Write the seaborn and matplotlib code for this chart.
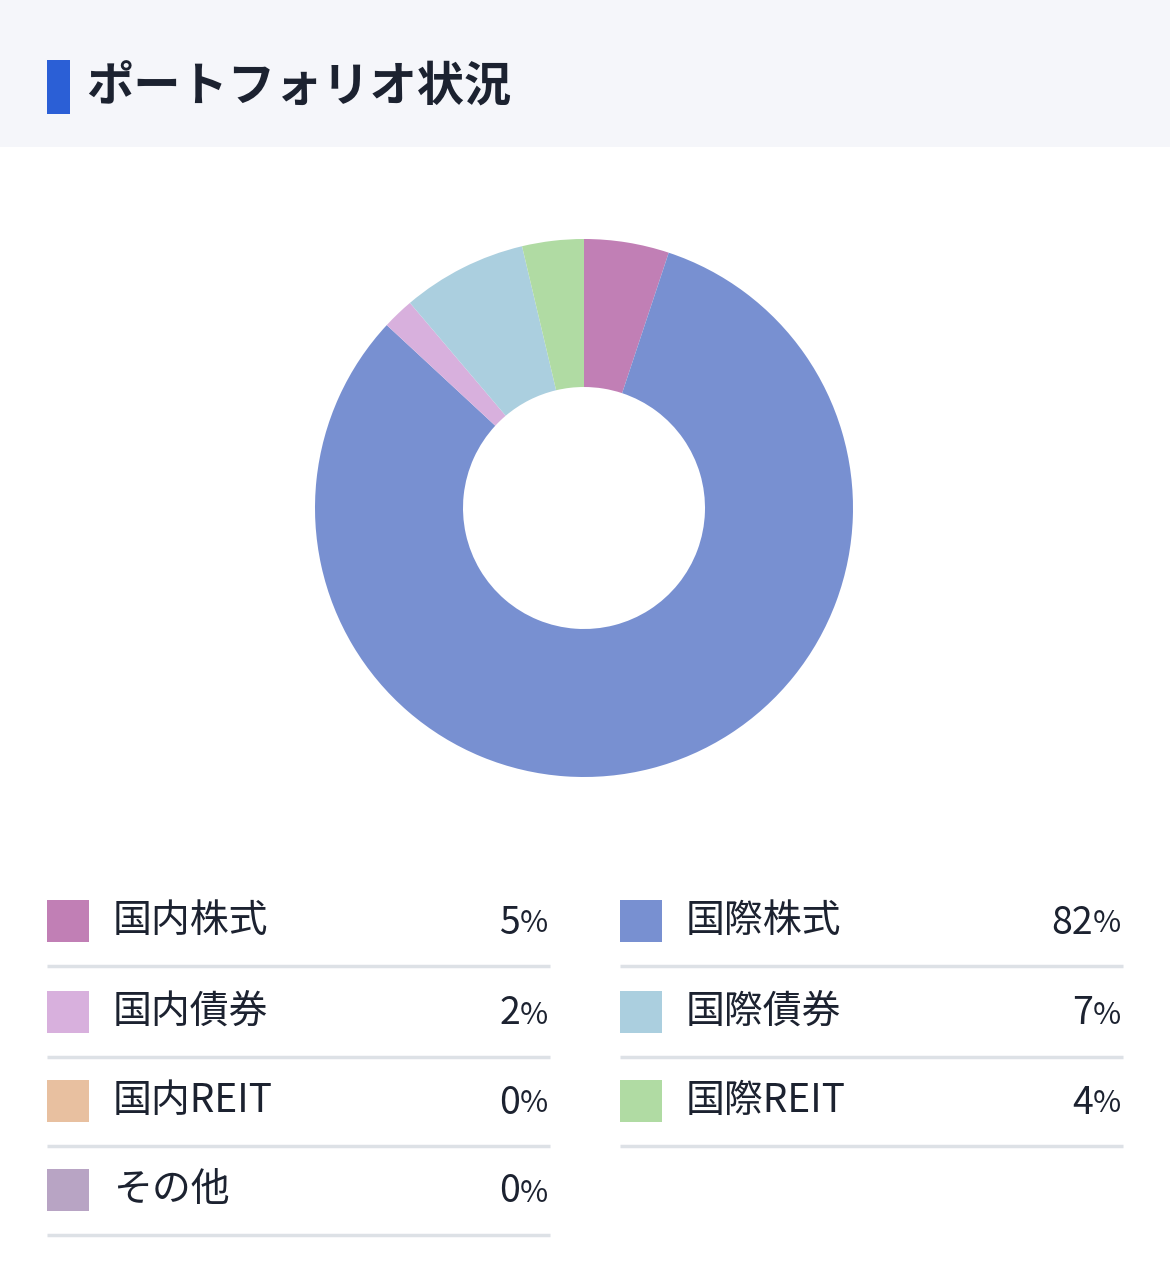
import matplotlib
matplotlib.use("Agg")
import matplotlib.pyplot as plt
import seaborn as sns

sns.set_theme(style="white")
plt.rcParams['font.family'] = ['Noto Sans CJK JP', 'DejaVu Sans']

title = "ポートフォリオ状況"
pie_labels = ["国内株式", "国際株式", "国内債券", "国際債券", "国際REIT"]
pie_values = [5.1, 81.8, 1.9, 7.5, 3.7]
pie_colors = ["#c17fb5", "#7890d1", "#d8b0dd", "#abcfdf", "#b0dba3"]

legend_left = ["国内株式", "国内債券", "国内REIT", "その他"]
legend_left_pct = ["5", "2", "0", "0"]
legend_left_colors = ["#c17fb5", "#d8b0dd", "#e8c0a0", "#b8a4c4"]
legend_right = ["国際株式", "国際債券", "国際REIT"]
legend_right_pct = ["82", "7", "4"]
legend_right_colors = ["#7890d1", "#abcfdf", "#b0dba3"]

W, H = 1170, 1285
fig = plt.figure(figsize=(W / 100, H / 100), dpi=100)
fig.patch.set_facecolor("white")

bg = fig.add_axes([0, 0, 1, 1])
bg.set_xlim(0, W)
bg.set_ylim(H, 0)
bg.axis("off")
bg.add_patch(plt.Rectangle((0, 0), W, 147, color="#f5f6fa", lw=0))
bg.add_patch(plt.Rectangle((47, 60), 23, 54, color="#2b5fd6", lw=0))
bg.text(86, 88, title, fontsize=34, fontweight="bold", color="#1c2230", va="center", ha="left")

rows_y = [921, 1012, 1101, 1190]

def legend_col(x0, x1, labels, pcts, colors):
    for i, (lab, p, c) in enumerate(zip(labels, pcts, colors)):
        y = rows_y[i]
        bg.add_patch(plt.Rectangle((x0, y - 21), 42, 42, color=c, lw=0))
        bg.text(x0 + 66, y, lab, fontsize=28, color="#1c2230", va="center", ha="left")
        bg.text(x1 - 2, y + 3, "%", fontsize=22, color="#1c2230", va="center", ha="right")
        bg.text(x1 - 30, y + 2, p, fontsize=27, color="#1c2230", va="center", ha="right")
        bg.plot([x0, x1], [y + 45, y + 45], color="#dde1e6", lw=2.5, solid_capstyle="butt")

legend_col(47, 550, legend_left, legend_left_pct, legend_left_colors)
legend_col(620, 1123, legend_right, legend_right_pct, legend_right_colors)

R = 269
cx, cy = 584, 508
ax = fig.add_axes([(cx - R) / W, (H - cy - R) / H, 2 * R / W, 2 * R / H])
ax.pie(pie_values, colors=pie_colors, startangle=90, counterclock=False, radius=1,
       wedgeprops=dict(width=148 / 269, linewidth=0))
ax.set_xlim(-1, 1)
ax.set_ylim(-1, 1)
ax.axis("off")

fig.savefig("out.png", dpi=100, facecolor="white")
